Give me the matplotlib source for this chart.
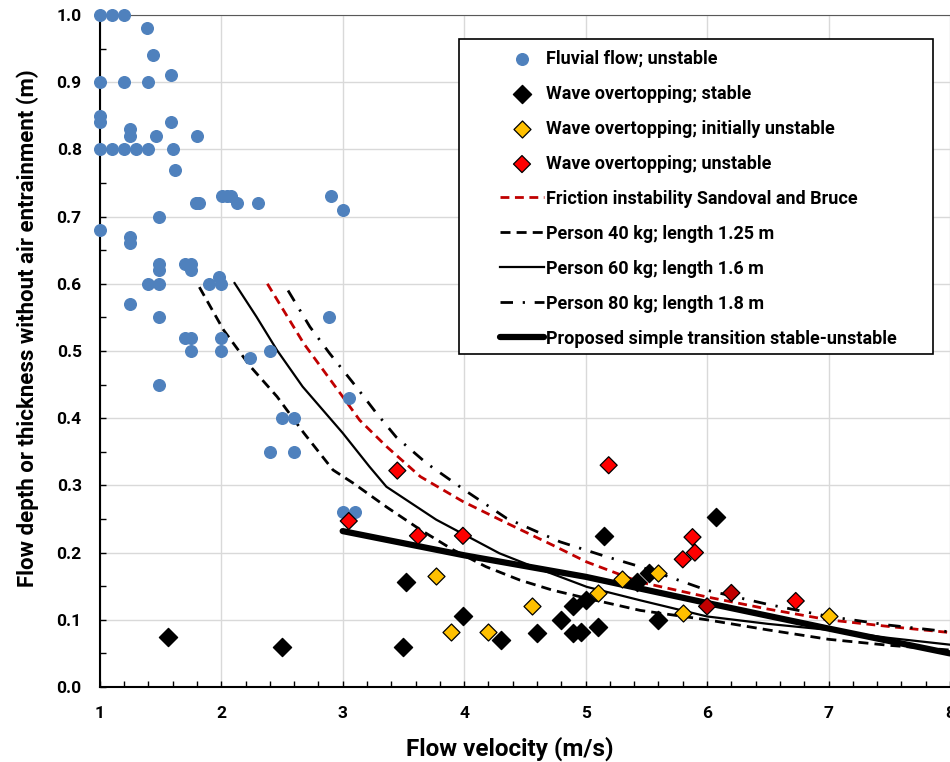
import matplotlib
matplotlib.use("Agg")
import matplotlib.pyplot as plt
import matplotlib.patches as patches
from matplotlib.ticker import MultipleLocator

plt.rcParams['font.family'] = ['Roboto', 'DejaVu Sans']
plt.rcParams['font.weight'] = 'bold'

# fluvial flow; unstable (blue dots)
fluv_v = [1.0, 1.1, 1.2, 1.39, 1.44, 1.59, 1.0, 1.2, 1.4, 1.0, 1.0, 1.59, 1.25, 1.25, 1.46, 1.8,
          1.0, 1.1, 1.2, 1.3, 1.4, 1.6, 1.62, 1.79, 1.82, 2.01, 2.05, 2.08, 2.13, 2.30, 2.9, 3.0,
          1.49, 1.0, 1.25, 1.25, 1.49, 1.49, 1.70, 1.75, 1.75, 1.40, 1.49, 1.90, 1.98, 2.0,
          1.25, 1.49, 2.89, 1.70, 1.75, 2.0, 1.75, 2.0, 2.24, 2.40, 1.49, 3.05, 2.50, 2.60,
          2.40, 2.60, 3.0, 3.1]
fluv_h = [1.0, 1.0, 1.0, 0.98, 0.94, 0.91, 0.90, 0.90, 0.90, 0.85, 0.84, 0.84, 0.83, 0.82, 0.82, 0.82,
          0.80, 0.80, 0.80, 0.80, 0.80, 0.80, 0.77, 0.72, 0.72, 0.73, 0.73, 0.73, 0.72, 0.72, 0.73, 0.71,
          0.70, 0.68, 0.67, 0.66, 0.63, 0.62, 0.63, 0.63, 0.62, 0.60, 0.60, 0.60, 0.61, 0.60,
          0.57, 0.55, 0.55, 0.52, 0.52, 0.52, 0.50, 0.50, 0.49, 0.50, 0.45, 0.43, 0.40, 0.40,
          0.35, 0.35, 0.26, 0.26]

# wave overtopping; stable (black diamonds)
stab_v = [1.56, 2.5, 3.52, 3.50, 3.99, 4.30, 4.60, 4.80, 4.90, 4.90, 4.96, 5.0, 5.10, 5.15,
          5.42, 5.52, 5.60, 6.07]
stab_h = [0.075, 0.06, 0.157, 0.06, 0.105, 0.07, 0.08, 0.10, 0.12, 0.08, 0.082, 0.13, 0.09, 0.225,
          0.156, 0.17, 0.10, 0.253]

# wave overtopping; initially unstable (yellow diamonds)
init_v = [3.77, 3.89, 4.20, 4.56, 5.10, 5.30, 5.60, 5.80, 7.0]
init_h = [0.165, 0.082, 0.082, 0.12, 0.14, 0.16, 0.17, 0.11, 0.105]

# wave overtopping; unstable (red diamonds)
uns_v = [3.05, 3.45, 3.62, 3.99, 5.19, 5.80, 5.88, 5.90, 6.0, 6.20, 6.73]
uns_h = [0.247, 0.322, 0.225, 0.225, 0.33, 0.19, 0.223, 0.20, 0.12, 0.14, 0.128]
uns_col = ['#FF0000'] * 8 + ['#C00000', '#C00000', '#FF0000']

# curves
sb_v = [2.38, 2.68, 3.0, 3.14, 3.36, 3.64, 3.99, 4.35, 4.73, 5.01, 5.45, 6.0, 6.5, 7.0, 7.5, 8.0]
sb_h = [0.60, 0.511, 0.432, 0.397, 0.358, 0.313, 0.276, 0.244, 0.211, 0.186, 0.156, 0.134, 0.116, 0.10, 0.09, 0.081]

p40_v = [1.82, 2.02, 2.24, 2.46, 2.68, 2.92, 3.09, 3.36, 3.64, 3.91, 4.18, 4.46, 4.73, 5.01, 5.45, 6.0, 6.5, 7.0, 7.5, 8.0]
p40_h = [0.595, 0.531, 0.477, 0.432, 0.378, 0.323, 0.303, 0.268, 0.234, 0.204, 0.179, 0.159, 0.144, 0.132, 0.114, 0.10, 0.085, 0.071, 0.062, 0.055]

p60_v = [2.11, 2.29, 2.46, 2.67, 3.0, 3.22, 3.36, 3.77, 4.29, 4.57, 5.01, 5.45, 6.0, 6.5, 7.0, 7.5, 8.0]
p60_h = [0.601, 0.551, 0.501, 0.447, 0.378, 0.328, 0.298, 0.249, 0.199, 0.179, 0.149, 0.129, 0.105, 0.094, 0.085, 0.073, 0.063]

p80_v = [2.55, 2.73, 2.89, 3.11, 3.28, 3.44, 3.69, 4.02, 4.35, 4.79, 5.17, 5.45, 6.0, 6.5, 7.0, 7.5, 8.0]
p80_h = [0.59, 0.536, 0.497, 0.447, 0.407, 0.372, 0.333, 0.291, 0.251, 0.216, 0.194, 0.179, 0.144, 0.123, 0.105, 0.092, 0.082]

prop_v = [3.0, 4.0, 5.0, 6.0, 7.0, 8.0]
prop_h = [0.232, 0.196, 0.164, 0.125, 0.087, 0.05]

fig = plt.figure(figsize=(9.5, 7.62), dpi=100)
ax = fig.add_axes([0.105, 0.0984, 0.895, 0.882])

ax.scatter(fluv_v, fluv_h, s=70, color='#4F81BD', zorder=3, clip_on=False, label='Fluvial flow; unstable')
ax.scatter(stab_v, stab_h, s=85, marker='D', color='black', zorder=3, label='Wave overtopping; stable')
ax.scatter(init_v, init_h, s=75, marker='D', facecolor='#FFC000', edgecolor='black', linewidth=0.9,
           zorder=3, label='Wave overtopping; initially unstable')
ax.scatter(uns_v, uns_h, s=75, marker='D', facecolor=uns_col, edgecolor='black', linewidth=0.9,
           zorder=3, label='Wave overtopping; unstable')

ax.plot(sb_v, sb_h, color='#C00000', lw=2.0, dashes=(3.2, 2.0), zorder=2,
        label='Friction instability Sandoval and Bruce')
ax.plot(p40_v, p40_h, color='black', lw=2.0, dashes=(3.6, 2.2), zorder=2,
        label='Person 40 kg; length 1.25 m')
ax.plot(p60_v, p60_h, color='black', lw=1.6, zorder=2, label='Person 60 kg; length 1.6 m')
ax.plot(p80_v, p80_h, color='black', lw=2.0, dashes=(4.5, 3.5, 0.8, 3.5), zorder=2,
        label='Person 80 kg; length 1.8 m')
ax.plot(prop_v, prop_h, color='black', lw=4.5, solid_capstyle='round', zorder=2,
        label='Proposed simple transition stable-unstable')

ax.set_xlim(1, 8)
ax.set_ylim(0, 1.0)
ax.xaxis.set_major_locator(MultipleLocator(1))
ax.xaxis.set_minor_locator(MultipleLocator(0.2))
ax.yaxis.set_major_locator(MultipleLocator(0.1))
ax.yaxis.set_minor_locator(MultipleLocator(0.05))
ax.set_yticks(ax.get_yticks())
ax.set_yticklabels([f'{t:.1f}' for t in ax.get_yticks()], fontweight='bold')
ax.set_xticks(ax.get_xticks())
ax.set_xticklabels([f'{t:.0f}' for t in ax.get_xticks()], fontweight='bold')
ax.tick_params(which='both', direction='in', length=4, width=1, labelsize=12.5)
ax.tick_params(axis='x', pad=14)
ax.tick_params(axis='y', pad=13)
ax.set_xlim(1, 8)
ax.set_ylim(0, 1.0)
ax.grid(True, which='major', color='#D9D9D9', lw=1.0)
ax.set_axisbelow(True)
for s in ['left', 'bottom']:
    ax.spines[s].set_linewidth(1.5)
ax.spines['top'].set_color('#595959')
ax.spines['right'].set_visible(False)

ax.set_xlabel('Flow velocity (m/s)', fontsize=17.5, fontweight='bold')
ax.set_ylabel('Flow depth or thickness without air entrainment (m)', fontsize=16,
              fontweight='bold')
ax.xaxis.set_label_coords(0.482, -0.074)
ax.yaxis.set_label_coords(-0.072, 0.534)

# legend box
box = patches.Rectangle((0.4225, 0.4955), 0.5575, 0.4690, transform=ax.transAxes,
                        facecolor='white', edgecolor='black', lw=1.2, zorder=4)
ax.add_patch(box)
leg = ax.legend(loc='upper left', bbox_to_anchor=(0.4706, 0.948), frameon=False,
                prop={'size': 13, 'weight': 'bold'}, handlelength=2.45, handletextpad=0.12,
                labelspacing=0.94, borderpad=0, borderaxespad=0, scatterpoints=1)
leg.set_zorder(5)

fig.savefig('out.png', dpi=100)
